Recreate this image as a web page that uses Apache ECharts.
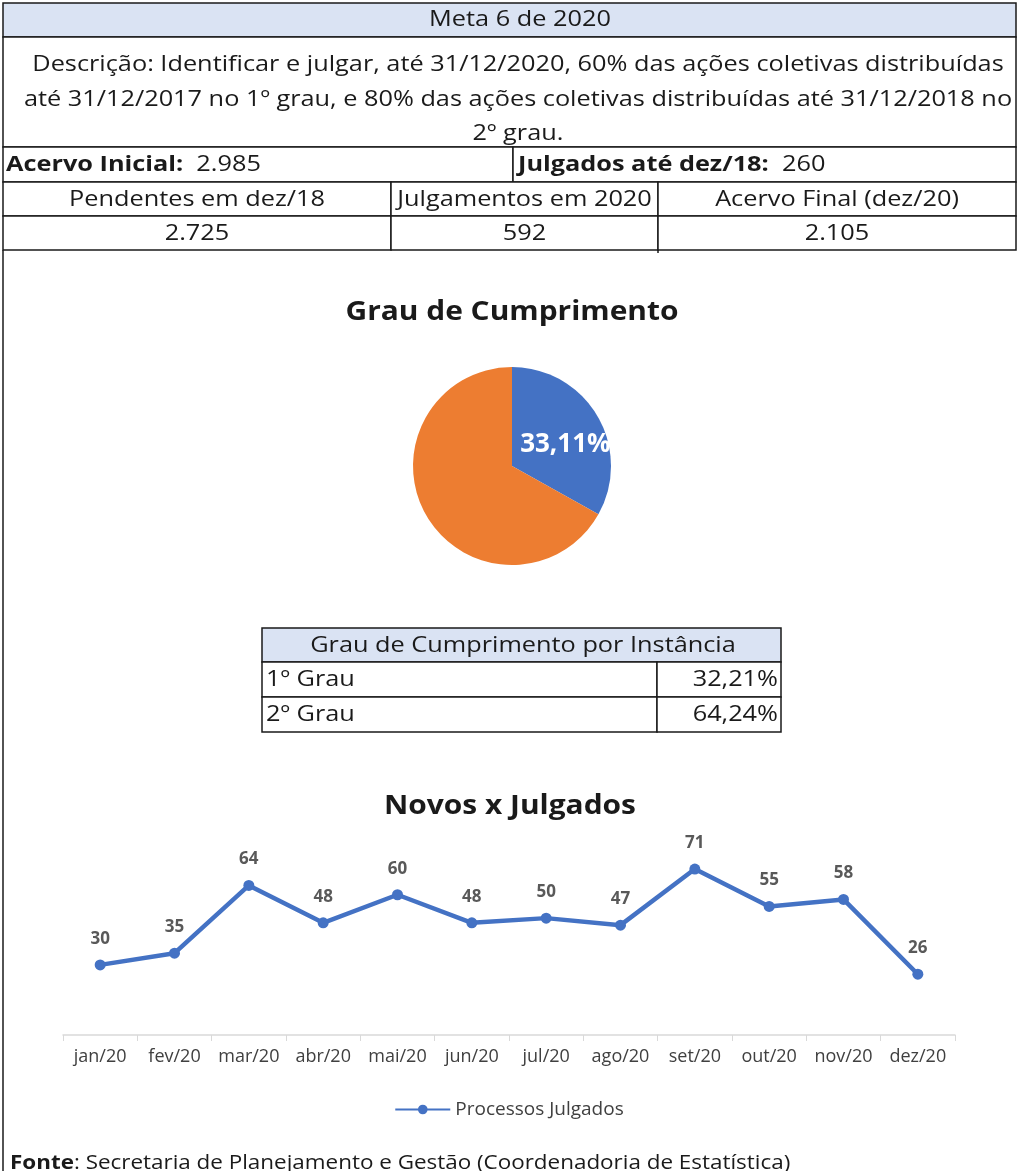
<!DOCTYPE html>
<html>
<head>
<meta charset="utf-8">
<script src="https://cdn.jsdelivr.net/npm/echarts@6/dist/echarts.min.js"></script>
<style>
  html, body { margin: 0; background: #fff; }
  #main { width: 1018px; height: 1171px; }
</style>
</head>
<body>
<div id="main"></div>
<script>
// dados do quadro
const metaTitle = "Meta 6 de 2020";
const descLines = [
  "Descrição: Identificar e julgar, até 31/12/2020, 60% das ações coletivas distribuídas",
  "até 31/12/2017 no 1º grau, e 80% das ações coletivas distribuídas até 31/12/2018 no",
  "2º grau."
];
const acervoInicial = "2.985";
const julgadosDez18 = "260";
const resumoHeaders = ["Pendentes em dez/18", "Julgamentos em 2020", "Acervo Final (dez/20)"];
const resumoValues = ["2.725", "592", "2.105"];

// pizza
const pieNames = ["Cumprido", "Restante"];
const pieValues = [33.11, 66.89];

// tabela por instância
const instancias = ["1º Grau", "2º Grau"];
const instanciaPct = ["32,21%", "64,24%"];

// linha
const meses = ["jan/20", "fev/20", "mar/20", "abr/20", "mai/20", "jun/20",
  "jul/20", "ago/20", "set/20", "out/20", "nov/20", "dez/20"];
const julgados = [30, 35, 64, 48, 60, 48, 50, 47, 71, 55, 58, 26];

const FONT = "'Open Sans', sans-serif";
const LINE = "#1a1a1a";
const HEAD_BG = "#dae3f3";
const SX = 1.15; // a imagem original é esticada na horizontal

function box(x, y, w, h, fill) {
  return {
    type: "rect",
    shape: { x: x, y: y, width: w, height: h },
    style: { fill: fill || "#fff", stroke: LINE, lineWidth: 1.5 },
  };
}
function txt(x, y, str, align, size, extra) {
  return {
    type: "text",
    x: x, y: y,
    scaleX: SX,
    style: Object.assign({
      text: str,
      align: align || "center",
      verticalAlign: "middle",
      fontFamily: FONT,
      fontSize: size || 22,
      fill: "#1a1a1a",
    }, extra || {}),
  };
}
function boldRich(size) {
  return { rich: { b: { fontWeight: "bold", fontFamily: FONT, fontSize: size, fill: "#1a1a1a" } } };
}

const graphics = [];
// cabeçalho
graphics.push(box(3, 3, 1013, 34, HEAD_BG));
graphics.push(txt(520, 20, metaTitle, "center", 22));
graphics.push(box(3, 37, 1013, 110));
descLines.forEach((l, i) => {
  graphics.push(txt(518, 65 + i * 34.5, l, "center", 22));
});
// acervo / julgados
graphics.push(box(3, 147, 510, 35));
graphics.push(box(513, 147, 503, 35));
graphics.push(txt(6, 165, "{b|Acervo Inicial:}  " + acervoInicial, "left", 22, boldRich(22)));
graphics.push(txt(518, 165, "{b|Julgados até dez/18:}  " + julgadosDez18, "left", 22, boldRich(22)));
// resumo
const colX = [3, 391, 658, 1016];
resumoHeaders.forEach((h, i) => {
  const w = colX[i + 1] - colX[i];
  graphics.push(box(colX[i], 182, w, 34));
  graphics.push(txt(colX[i] + w / 2, 200, h, "center", 22));
  graphics.push(box(colX[i], 216, w, 34));
  graphics.push(txt(colX[i] + w / 2, 234, resumoValues[i], "center", 22));
});
graphics.push({ type: "line", shape: { x1: 658, y1: 250, x2: 658, y2: 253 }, style: { stroke: LINE, lineWidth: 1.5 } });
// borda esquerda
graphics.push({ type: "line", shape: { x1: 3, y1: 250, x2: 3, y2: 1171 }, style: { stroke: LINE, lineWidth: 1.5 } });

// títulos
graphics.push(txt(512, 313, "Grau de Cumprimento", "center", 26, { fontWeight: "bold" }));
graphics.push(txt(510, 807, "Novos x Julgados", "center", 26, { fontWeight: "bold" }));

// tabela por instância
graphics.push(box(262, 628, 519, 34, HEAD_BG));
graphics.push(txt(523, 646, "Grau de Cumprimento por Instância", "center", 22));
instancias.forEach((n, i) => {
  const y = 662 + i * 35;
  graphics.push(box(262, y, 395, 35));
  graphics.push(box(657, y, 124, 35));
  graphics.push(txt(266, y + 18, n, "left", 22));
  graphics.push(txt(778, y + 18, instanciaPct[i], "right", 22));
});

// fonte
graphics.push(txt(10, 1163, "{b|Fonte}: Secretaria de Planejamento e Gestão (Coordenadoria de Estatística)", "left", 19.5, boldRich(19.5)));

const chart = echarts.init(document.getElementById("main"));

const option = {
  animation: false,
  legend: {
    data: ["Processos Julgados"],
    left: "center",
    top: 1095,
    itemWidth: 55,
    itemHeight: 12,
    itemGap: 4,
    textStyle: { fontFamily: FONT, fontSize: 19, color: "#404040" },
  },
  grid: { left: 63, right: 63, top: 848, height: 187 },
  xAxis: {
    type: "category",
    data: meses,
    boundaryGap: true,
    axisLine: { lineStyle: { color: "#d9d9d9", width: 1.5 } },
    axisTick: { show: true, interval: 0, lineStyle: { color: "#d9d9d9" }, length: 6 },
    axisLabel: { interval: 0, fontFamily: FONT, fontSize: 18, color: "#404040", margin: 13 },
  },
  yAxis: { type: "value", min: 0, max: 80, show: false, splitLine: { show: false } },
  graphic: graphics,
  series: [
    {
      type: "pie",
      center: [512, 466],
      radius: 99,
      startAngle: 90,
      clockwise: true,
      data: pieNames.map((n, i) => ({ name: n, value: pieValues[i] })),
      color: ["#4472c4", "#ed7d31"],
      label: {
        show: true,
        position: "inside",
        offset: [8, 5],
        formatter: (p) => (p.dataIndex === 0 ? p.value.toFixed(2).replace(".", ",") + "%" : ""),
        fontFamily: FONT,
        fontSize: 26,
        fontWeight: "bold",
        color: "#fff",
      },
      labelLine: { show: false },
      emphasis: { disabled: true },
    },
    {
      name: "Processos Julgados",
      type: "line",
      data: julgados,
      color: "#4472c4",
      lineStyle: { width: 4.5 },
      symbol: "circle",
      symbolSize: 11,
      label: {
        show: true,
        position: "top",
        distance: 12,
        fontFamily: FONT,
        fontSize: 17,
        fontWeight: "bold",
        color: "#595959",
      },
    },
  ],
};
chart.setOption(option);
</script>
</body>
</html>
